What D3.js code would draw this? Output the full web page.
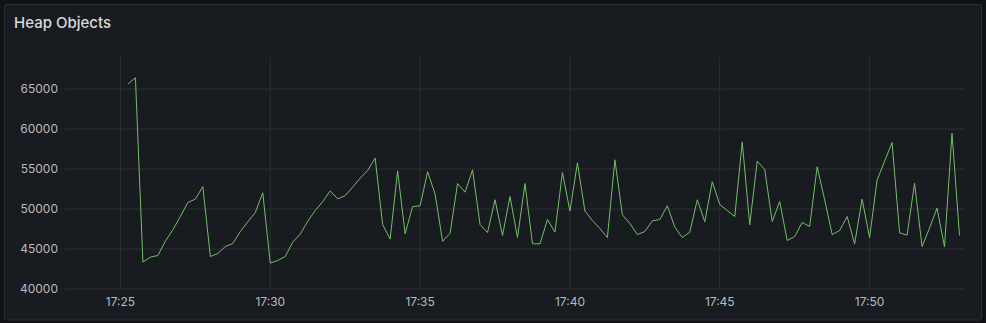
<!DOCTYPE html>
<html>
<head>
<meta charset="utf-8">
<script src="https://cdn.jsdelivr.net/npm/d3@7"></script>
<style>
  html, body { margin: 0; padding: 0; background: #111217; }
  svg { display: block; }
</style>
</head>
<body>
<div id="chart"></div>
<script>
var svgWidth = 986;
var svgHeight = 323;

// scrape every 15s starting at 17:25:16
var startTime = new Date(2024, 0, 1, 17, 25, 16);
var stepSeconds = 15;

var heapObjects = [
    65550, 66340, 43300, 43925, 44125, 45925, 47340, 49000, 50750, 51170,
    52750, 44000, 44375, 45250, 45625, 47125, 48340, 49500, 51960, 43175,
    43500, 44000, 45800, 46800, 48400, 49750, 50850, 52200, 51200, 51625,
    52670, 53800, 54750, 56300, 48000, 46175, 54700, 46840, 50250, 50340,
    54590, 51800, 45900, 46900, 53125, 52040, 54840, 48000, 47000, 51090,
    46625, 51500, 46375, 53125, 45590, 45590, 48625, 47050, 54500, 49675,
    55710, 49675, 48500, 47500, 46375, 56090, 49210, 48125, 46750, 47125,
    48460, 48625, 50340, 47675, 46375, 47050, 51090, 48340, 53340, 50500,
    49750, 49000, 58300, 47960, 55920, 54875, 48375, 50875, 46000, 46500,
    48250, 47750, 55210, 51090, 46750, 47250, 49000, 45590, 51170, 46340,
    53550, 55900, 58250, 46960, 46670, 53170, 45250, 47550, 50050, 45210,
    59425, 46625
];

var yTicks = [40000, 45000, 50000, 55000, 60000, 65000];
var xTicks = [
    new Date(2024, 0, 1, 17, 25), new Date(2024, 0, 1, 17, 30),
    new Date(2024, 0, 1, 17, 35), new Date(2024, 0, 1, 17, 40),
    new Date(2024, 0, 1, 17, 45), new Date(2024, 0, 1, 17, 50)
];
var xStart = new Date(2024, 0, 1, 17, 23, 10);
var xEnd = new Date(2024, 0, 1, 17, 53, 10);

var data = heapObjects.map((v, i) => ({
    time: new Date(startTime.getTime() + i * stepSeconds * 1000),
    value: v
}));

var plot = { left: 65, right: 964, top: 57, bottom: 288.5 };

var svg = d3.select("#chart")
    .append("svg")
    .attr("width", svgWidth)
    .attr("height", svgHeight);

// panel
svg.append("rect")
    .attr("x", 4.5).attr("y", 4.5)
    .attr("width", 977).attr("height", 315.5)
    .attr("rx", 2)
    .attr("fill", "#181b1f")
    .attr("stroke", "#2b2e34");

svg.append("text")
    .attr("x", 14).attr("y", 28)
    .attr("fill", "#d8d9da")
    .style("font-family", "Inter, 'Noto Sans', sans-serif")
    .style("font-size", "15px")
    .style("font-weight", 500)
    .text("Heap Objects");

var xScale = d3.scaleTime()
    .domain([xStart, xEnd])
    .range([plot.left, plot.right]);

var yScale = d3.scaleLinear()
    .domain([40000, 40000 + (plot.bottom - plot.top) * 125])
    .range([plot.bottom, plot.top]);

// grid
var leftAxis = d3.axisLeft(yScale)
    .tickValues(yTicks)
    .tickSize(-(plot.right - plot.left))
    .tickPadding(7)
    .tickFormat(d3.format("d"));

var bottomAxis = d3.axisBottom(xScale)
    .tickValues(xTicks)
    .tickSize(-(plot.bottom - plot.top))
    .tickPadding(9)
    .tickFormat(d3.timeFormat("%H:%M"));

var yAxisG = svg.append("g")
    .attr("transform", `translate(${plot.left}, 0)`)
    .call(leftAxis);

var xAxisG = svg.append("g")
    .attr("transform", `translate(0, ${plot.bottom})`)
    .call(bottomAxis);

[yAxisG, xAxisG].forEach(g => {
    g.select(".domain").remove();
    g.selectAll("line").attr("stroke", "#2c2f35").attr("stroke-width", 1);
    g.selectAll("text")
        .attr("fill", "#b8bac0")
        .style("font-family", "Inter, 'Noto Sans', sans-serif")
        .style("font-size", "12px");
});

// series
var line = d3.line()
    .x(d => xScale(d.time))
    .y(d => yScale(d.value));

svg.append("path")
    .datum(data)
    .attr("d", line)
    .attr("fill", "none")
    .attr("stroke", "#73bf69")
    .attr("stroke-width", 1)
    .attr("stroke-linejoin", "round");
</script>
</body>
</html>
